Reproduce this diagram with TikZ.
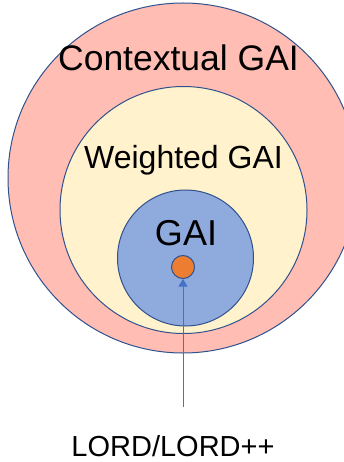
\documentclass[tikz,border=0pt]{standalone}
\usepackage{fontspec}
\setmainfont{Liberation Sans}
\usetikzlibrary{arrows.meta}
\definecolor{ringline}{HTML}{2F528F}
\definecolor{ctxfill}{HTML}{FFBDB4}
\definecolor{wfill}{HTML}{FFF2CC}
\definecolor{gaifill}{HTML}{8FAADC}
\definecolor{dotfill}{HTML}{ED7D31}
\definecolor{arrowcol}{HTML}{4472C4}
\tikzset{
  ring/.style={circle, draw=ringline, line width=1pt, inner sep=0pt},
  lbl/.style={anchor=base, inner sep=0pt, text=black},
}
\begin{document}
\begin{tikzpicture}[x=1pt, y=-1pt]
  \useasboundingbox (0,0) rectangle (344,462);
  \clip (0,0) rectangle (344,462);
  % nested sets
  \node[ring, fill=ctxfill, minimum size=350pt] (ctx) at (183,178) {};
  \node[ring, fill=wfill, minimum size=247pt] (wgai) at (183.5,210) {};
  \node[ring, fill=gaifill, minimum size=136pt] (gai) at (185.5,258) {};
  \node[ring, fill=dotfill, minimum size=23pt] (lord) at (183,267) {};
  % labels
  \node[lbl, font=\fontsize{35.5}{36}\selectfont] (tctx) at (178.5,71) {Contextual GAI};
  \node[lbl, font=\fontsize{32}{32}\selectfont] (tw) at (183.5,169) {Weighted GAI};
  \node[lbl, font=\fontsize{36}{36}\selectfont] (tg) at (186,245) {GAI};
  \node[lbl, font=\fontsize{29}{29}\selectfont] (tl) at (173,456.5) {LORD/LORD++};
  % pointer to the LORD point
  \coordinate (tail) at (183,407);
  \draw[arrowcol, line width=1pt, -{Triangle[width=9pt,length=7.5pt]}] (tail) -- (lord.south);
\end{tikzpicture}
\end{document}
